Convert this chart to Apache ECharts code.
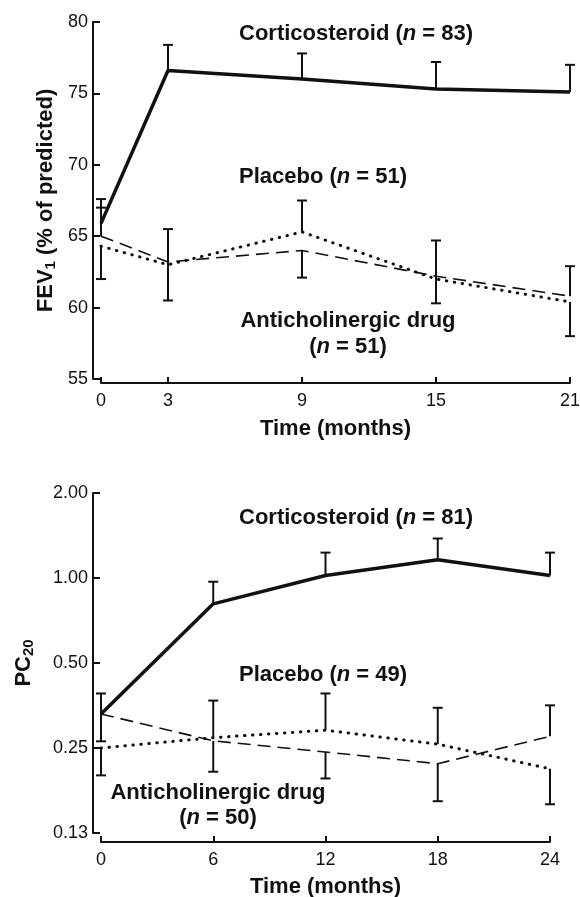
<!DOCTYPE html>
<html>
<head>
<meta charset="utf-8">
<script src="https://cdn.jsdelivr.net/npm/echarts@6/dist/echarts.min.js"></script>
<style>
  html, body { margin: 0; padding: 0; background: #fff; }
  #main { width: 580px; height: 897px; }
</style>
</head>
<body>
<div id="main"></div>
<script>
// top panel: FEV1
var fevMonths = [0, 3, 9, 15, 21]
var fevSteroid = [65.9, 76.6, 76.0, 75.3, 75.1]
var fevSteroidErr = [67.6, 78.4, 77.8, 77.2, 77.0]
var fevDashed = [65.0, 63.2, 64.0, 62.2, 60.8]
var fevDashedErr = [67.0, 60.5, 62.1, 60.3, 62.9]
var fevDotted = [64.3, 63.0, 65.3, 62.0, 60.4]
var fevDottedErr = [62.0, 65.5, 67.5, 64.7, 58.0]

// bottom panel: PC20 (log scale)
var pcMonths = [0, 6, 12, 18, 24]
var pcSteroid = [0.33, 0.81, 1.02, 1.16, 1.02]
var pcSteroidErr = [0.39, 0.97, 1.23, 1.38, 1.23]
var pcDashed = [0.33, 0.265, 0.242, 0.22, 0.275]
var pcDashedErr = [0.264, 0.206, 0.195, 0.162, 0.354]
var pcDotted = [0.25, 0.272, 0.289, 0.258, 0.211]
var pcDottedErr = [0.20, 0.368, 0.39, 0.347, 0.158]

var fevTicks = [0, 3, 9, 15, 21]
var ink = '#111'
var font = 'Liberation Sans'

function pairs(xs, ys) {
  return xs.map(function (x, i) { return [x, ys[i]] })
}
function bars(xs, ys, ends) {
  return xs.map(function (x, i) { return [x, ys[i], ends[i]] })
}

function errorBar(params, api) {
  var p0 = api.coord([api.value(0), api.value(1)])
  var p1 = api.coord([api.value(0), api.value(2)])
  var st = { stroke: ink, lineWidth: 2 }
  return {
    type: 'group',
    children: [
      { type: 'line', shape: { x1: p0[0], y1: p0[1], x2: p1[0], y2: p1[1] }, style: st },
      { type: 'line', shape: { x1: p1[0] - 5, y1: p1[1], x2: p1[0] + 5, y2: p1[1] }, style: st }
    ]
  }
}

function lineSeries(idx, data, kind) {
  var ls = { color: ink, width: 3.5, type: 'solid' }
  if (kind === 'dashed') ls = { color: ink, width: 1.6, type: [13, 7] }
  if (kind === 'dotted') ls = { color: ink, width: 3, type: [0.5, 7.5], cap: 'round' }
  return {
    type: 'line', xAxisIndex: idx, yAxisIndex: idx, data: data,
    showSymbol: false, lineStyle: ls, silent: true, z: 3
  }
}
function barSeries(idx, data) {
  return {
    type: 'custom', xAxisIndex: idx, yAxisIndex: idx, data: data,
    renderItem: errorBar, silent: true, z: 2
  }
}

var axisLine = { show: true, onZero: false, lineStyle: { color: ink, width: 2 } }
var tickLabel = { color: ink, fontSize: 18, fontFamily: font }
var nameStyle = { fontSize: 22, fontWeight: 'bold', fontFamily: font, color: ink }
var titleRich = {
  b: { fontSize: 22, fontWeight: 'bold', fontFamily: font, color: ink },
  s: { fontSize: 15, fontWeight: 'bold', fontFamily: font, color: ink, padding: [9, 0, 0, 0] }
}

function label(x, y, text, align) {
  return {
    type: 'text', x: x, y: y,
    style: {
      text: text, textAlign: align || 'left', textVerticalAlign: 'middle',
      fill: ink, font: 'bold 22px "Liberation Sans"',
      rich: {
        i: { fontStyle: 'italic', fontWeight: 'bold', fontSize: 22, fontFamily: font }
      }
    }
  }
}

var myChart = echarts.init(document.getElementById('main'))
var option = {
  animation: false,
  backgroundColor: '#fff',
  grid: [
    { left: 101, right: 10, top: 22, height: 357, outerBoundsMode: 'none' },
    { left: 101, right: 30, top: 493, height: 340, outerBoundsMode: 'none' }
  ],
  xAxis: [
    {
      gridIndex: 0, type: 'value', min: 0, max: 21, offset: 4,
      axisLine: axisLine,
      axisTick: { inside: true, length: 6, lineStyle: { color: ink, width: 2 }, customValues: fevTicks },
      axisLabel: Object.assign({ margin: 9, customValues: fevTicks }, tickLabel),
      splitLine: { show: false },
      name: 'Time (months)', nameLocation: 'middle', nameGap: 35, nameMoveOverlap: false,
      nameTextStyle: nameStyle
    },
    {
      gridIndex: 1, type: 'value', min: 0, max: 24, interval: 6, offset: 9,
      axisLine: axisLine,
      axisTick: { inside: true, length: 6, lineStyle: { color: ink, width: 2 } },
      axisLabel: Object.assign({ margin: 9 }, tickLabel),
      splitLine: { show: false },
      name: 'Time (months)', nameLocation: 'middle', nameGap: 34, nameMoveOverlap: false,
      nameTextStyle: nameStyle
    }
  ],
  yAxis: [
    {
      gridIndex: 0, type: 'value', min: 55, max: 80, interval: 5, offset: 8,
      axisLine: axisLine,
      axisTick: { inside: true, length: 7, lineStyle: { color: ink, width: 2 } },
      axisLabel: Object.assign({ margin: 5 }, tickLabel),
      splitLine: { show: false },
      name: '{b|FEV}{s|1}{b| (% of predicted)}', nameLocation: 'middle', nameRotate: 90,
      nameGap: 35, nameMoveOverlap: false,
      nameTextStyle: { rich: titleRich }
    },
    {
      gridIndex: 1, type: 'log', logBase: 2, min: 0.125, max: 2, splitNumber: 4, offset: 8,
      axisLine: axisLine,
      axisTick: { inside: true, length: 7, lineStyle: { color: ink, width: 2 } },
      axisLabel: Object.assign({ margin: 5, formatter: function (v) { return v.toFixed(2) } }, tickLabel),
      splitLine: { show: false },
      name: '{b|PC}{s|20}', nameLocation: 'middle', nameRotate: 90,
      nameGap: 57, nameMoveOverlap: false,
      nameTextStyle: { rich: titleRich }
    }
  ],
  series: [
    barSeries(0, bars(fevMonths, fevSteroid, fevSteroidErr)),
    barSeries(0, bars(fevMonths, fevDashed, fevDashedErr)),
    barSeries(0, bars(fevMonths, fevDotted, fevDottedErr)),
    lineSeries(0, pairs(fevMonths, fevSteroid), 'solid'),
    lineSeries(0, pairs(fevMonths, fevDashed), 'dashed'),
    lineSeries(0, pairs(fevMonths, fevDotted), 'dotted'),
    barSeries(1, bars(pcMonths, pcSteroid, pcSteroidErr)),
    barSeries(1, bars(pcMonths, pcDashed, pcDashedErr)),
    barSeries(1, bars(pcMonths, pcDotted, pcDottedErr)),
    lineSeries(1, pairs(pcMonths, pcSteroid), 'solid'),
    lineSeries(1, pairs(pcMonths, pcDashed), 'dashed'),
    lineSeries(1, pairs(pcMonths, pcDotted), 'dotted')
  ],
  graphic: {
    elements: [
      label(239, 34, 'Corticosteroid ({i|n} = 83)'),
      label(239, 177, 'Placebo ({i|n} = 51)'),
      label(348, 321, 'Anticholinergic drug', 'center'),
      label(348, 347, '({i|n} = 51)', 'center'),
      label(239, 518, 'Corticosteroid ({i|n} = 81)'),
      label(239, 675, 'Placebo ({i|n} = 49)'),
      label(218, 793, 'Anticholinergic drug', 'center'),
      label(218, 818, '({i|n} = 50)', 'center')
    ]
  }
}

myChart.setOption(option)
</script>
</body>
</html>
